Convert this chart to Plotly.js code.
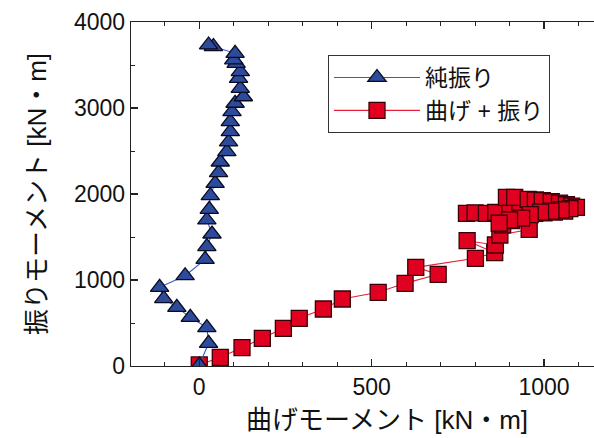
<!DOCTYPE html>
<html>
<head>
<meta charset="utf-8">
<script src="https://cdn.plot.ly/plotly-3.0.1.min.js"></script>
<style>html,body{margin:0;padding:0;background:#fff;}#chart{width:594px;height:438px;}</style>
</head>
<body>
<div id="chart"></div>
<script>
// 純振り (pure torsion)
const pureName = "純振り";
const pureBending = [0, 27, 22, -26, -65, -103, -115, -41, 17, 22, 37, 22, 29, 32, 46, 56, 61, 80, 85, 90, 90, 95, 104, 128, 119, 114, 119, 107, 100, 104, 41, 27];
const pureTorsion = [10, 264, 446, 566, 682, 783, 915, 1050, 1240, 1388, 1535, 1698, 1822, 1980, 2124, 2248, 2372, 2492, 2605, 2725, 2841, 2957, 3055, 3131, 3229, 3345, 3422, 3520, 3560, 3636, 3713, 3733];

// 曲げ + 振り (bending + torsion)
const combName = "曲げ + 振り";
const combBending = [0, 61, 124, 183, 244, 290, 360, 415, 519, 597, 693, 628, 801, 857, 777, 859, 872, 957, 880, 905, 775, 800, 833, 860, 901, 930, 973, 1000, 1030, 1060, 891, 915, 954, 975, 995, 1021, 1045, 1065, 1080, 1094, 1075, 1050, 1020, 990, 960, 935, 900, 870];
const combTorsion = [12, 101, 213, 322, 438, 554, 663, 779, 857, 961, 1066, 1147, 1252, 1318, 1457, 1407, 1523, 1589, 1640, 1690, 1775, 1780, 1775, 1785, 1775, 1780, 1775, 1780, 1790, 1800, 1961, 1961, 1938, 1930, 1922, 1910, 1895, 1875, 1860, 1845, 1830, 1815, 1800, 1790, 1760, 1720, 1700, 1660];

const xTitle = "曲げモーメント [kN・m]";
const yTitle = "振りモーメント [kN・m]";

const latin = "Liberation Sans, Arial, Noto Sans CJK JP, sans-serif";
const cjk = "Liberation Sans, Noto Sans CJK JP, sans-serif";

const traces = [
  {
    x: combBending, y: combTorsion, name: combName, type: "scatter", mode: "lines+markers",
    line: {color: "#e8203a", width: 1.1},
    marker: {symbol: "square", size: 16, color: "#e0001f", line: {color: "#3a0008", width: 1.3}}
  },
  {
    x: pureBending, y: pureTorsion, name: pureName, type: "scatter", mode: "lines+markers",
    line: {color: "#3a5bc7", width: 1.1},
    marker: {symbol: "triangle-up", size: 16, color: "#2d4b9b", line: {color: "#0a0a20", width: 1.3}}
  }
];

const axisCommon = {
  showgrid: false, zeroline: false, showline: true, linecolor: "#222", linewidth: 1.3,
  ticks: "inside", tickcolor: "#222", tickwidth: 1.2,
  tickfont: {family: latin, size: 23, color: "#111"}
};

const layout = {
  width: 594, height: 438,
  margin: {l: 131, r: 0, t: 22, b: 72},
  paper_bgcolor: "#fff", plot_bgcolor: "#fff",
  showlegend: true,
  legend: {
    x: 0.4255, y: 0.904, xanchor: "left", yanchor: "top",
    bgcolor: "#fff", bordercolor: "#333", borderwidth: 1,
    font: {family: cjk, size: 23, color: "#111"},
    itemwidth: 86, traceorder: "reversed"
  },
  xaxis: Object.assign({}, axisCommon, {
    range: [-198, 1145], tickvals: [0, 500, 1000], ticklen: 7, mirror: "allticks",
    minor: {dtick: 100, tick0: 0, ticks: "inside", ticklen: 4, tickcolor: "#222", tickwidth: 1}
  }),
  yaxis: Object.assign({}, axisCommon, {
    range: [0, 4000], tickvals: [0, 1000, 2000, 3000, 4000], ticklen: 7,
    minor: {dtick: 500, tick0: 0, ticks: "inside", ticklen: 4, tickcolor: "#222", tickwidth: 1}
  }),
  annotations: [
    {text: xTitle, xref: "paper", yref: "paper", x: 0.553, y: -0.158, xanchor: "center", yanchor: "middle",
     showarrow: false, font: {family: cjk, size: 26, color: "#111"}},
    {text: yTitle, xref: "paper", yref: "paper", x: -0.203, y: 0.5, xanchor: "center", yanchor: "middle",
     textangle: -90, showarrow: false, font: {family: cjk, size: 26, color: "#111"}}
  ]
};

Plotly.newPlot("chart", traces, layout, {displayModeBar: false, staticPlot: true});
</script>
</body>
</html>
